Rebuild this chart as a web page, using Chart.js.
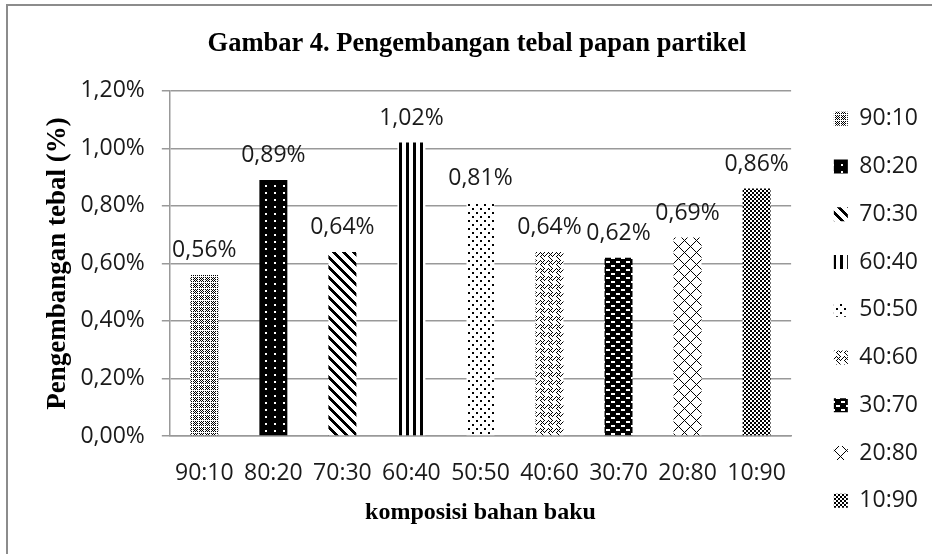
<!DOCTYPE html>
<html lang="id">
<head>
    <meta charset="UTF-8">
    <title>Gambar 4. Pengembangan tebal papan partikel</title>
    <script src="https://cdn.jsdelivr.net/npm/chart.js"></script>
    <style>
        body { margin: 0; background: #fff; }
        #wrap { width: 932px; height: 554px; }
    </style>
</head>
<body>
    <div id="wrap">
        <canvas id="chart" width="932" height="554"></canvas>
    </div>

    <script>
        // chart data
        const categories = ['90:10', '80:20', '70:30', '60:40', '50:50', '40:60', '30:70', '20:80', '10:90'];
        const values = [0.56, 0.89, 0.64, 1.02, 0.81, 0.64, 0.62, 0.69, 0.86];
        const yTicks = [0, 0.2, 0.4, 0.6, 0.8, 1.0, 1.2];

        const chartTitle = 'Gambar 4. Pengembangan tebal papan partikel';
        const xTitle = 'komposisi bahan baku';
        const yTitle = 'Pengembangan tebal (%)';

        const fmt = v => v.toFixed(2).replace('.', ',') + '%';

        // small black/white tiles, like the excel pattern fills
        function tile(w, h, isBlack) {
            const c = document.createElement('canvas');
            c.width = w; c.height = h;
            const g = c.getContext('2d');
            g.fillStyle = '#fff';
            g.fillRect(0, 0, w, h);
            g.fillStyle = '#000';
            for (let y = 0; y < h; y++) {
                for (let x = 0; x < w; x++) {
                    if (isBlack(x, y)) g.fillRect(x, y, 1, 1);
                }
            }
            return g.createPattern(c, 'repeat');
        }

        const patterns = [
            // 90:10 checker blocks split by white lines
            tile(6, 6, (x, y) => x % 6 !== 0 && y % 6 !== 0 && (x + y) % 2 === 0),
            // 80:20 black with white dots
            tile(9, 7, (x, y) => !((x === 4 || x === 5) && (y === 3 || y === 4))),
            // 70:30 wide downward diagonal
            tile(10, 10, (x, y) => ((x - y + 10) % 10) < 4),
            // 60:40 wide vertical
            tile(7, 1, (x) => x < 3),
            // 50:50 sparse dots
            tile(8, 8, (x, y) => (x < 2 && y < 2) || (x >= 4 && x < 6 && y >= 4 && y < 6)),
            // 40:60 weave
            tile(8, 8, (x, y) => (x < 4 && (x + y) % 8 === 0) || (x >= 4 && (x - y + 8) % 8 === 0) ||
                (y < 4 && (x - y + 8) % 8 === 4) || (y >= 4 && (x + y) % 8 === 4)),
            // 30:70 black with white dashes
            tile(10, 8, (x, y) => !((y === 1 || y === 2) && x >= 1 && x < 5) && !((y === 5 || y === 6) && x >= 6 && x < 10)),
            // 20:80 large diamond
            tile(12, 12, (x, y) => (x + y) % 12 === 0 || (x - y + 12) % 12 === 0),
            // 10:90 dense checker
            tile(4, 4, (x, y) => (x < 2) === (y < 2))
        ];

        const datasets = categories.map((name, i) => ({
            label: name,
            data: categories.map((c, j) => j === i ? values[i] : null),
            backgroundColor: patterns[i],
            borderWidth: 0,
            grouped: false,
            barPercentage: 0.405,
            categoryPercentage: 1
        }));

        // white background + frame
        const frame = {
            id: 'frame',
            beforeDraw(chart) {
                const c = chart.ctx;
                c.save();
                c.fillStyle = '#fff';
                c.fillRect(0, 0, chart.width, chart.height);
                c.strokeStyle = '#8c8c8c';
                c.lineWidth = 2;
                c.strokeRect(7, 5, chart.width + 20, chart.height + 20);
                c.restore();
            }
        };

        // value labels above each bar
        const barLabels = {
            id: 'barLabels',
            afterDatasetsDraw(chart) {
                const c = chart.ctx;
                c.save();
                c.font = '23px "Open Sans"';
                c.fillStyle = '#1a1a1a';
                c.textAlign = 'center';
                c.textBaseline = 'alphabetic';
                chart.data.datasets.forEach((ds, i) => {
                    chart.getDatasetMeta(i).data.forEach((bar, j) => {
                        if (ds.data[j] == null) return;
                        c.fillText(fmt(ds.data[j]), bar.x, bar.y - 18);
                    });
                });
                c.restore();
            }
        };

        new Chart(document.getElementById('chart'), {
            type: 'bar',
            data: { labels: categories, datasets: datasets },
            plugins: [frame, barLabels],
            options: {
                responsive: false,
                animation: false,
                layout: { padding: { left: 26, right: 4, top: 0, bottom: 17 } },
                plugins: {
                    title: {
                        display: true,
                        text: chartTitle,
                        color: '#000',
                        font: { family: 'Liberation Serif', weight: 'bold', size: 26.5 },
                        padding: { top: 28, bottom: 31 }
                    },
                    legend: {
                        position: 'right',
                        align: 'end',
                        labels: {
                            color: '#1a1a1a',
                            font: { family: 'Open Sans', size: 23 },
                            boxWidth: 14,
                            boxHeight: 14,
                            padding: 24.75
                        }
                    },
                    tooltip: { enabled: false }
                },
                scales: {
                    x: {
                        grid: { display: false },
                        border: { color: '#999', width: 1.5 },
                        ticks: {
                            color: '#1a1a1a',
                            font: { family: 'Open Sans', size: 23 },
                            padding: 16,
                            maxRotation: 0
                        },
                        title: {
                            display: true,
                            text: xTitle,
                            color: '#000',
                            font: { family: 'Liberation Serif', weight: 'bold', size: 24 },
                            padding: { top: -5, bottom: 9.6 }
                        }
                    },
                    y: {
                        min: 0,
                        max: 1.2,
                        afterBuildTicks: scale => { scale.ticks = yTicks.map(v => ({ value: v })); },
                        grid: { color: '#999', lineWidth: 1.5, tickLength: 8 },
                        border: { color: '#999', width: 1.5 },
                        ticks: {
                            color: '#1a1a1a',
                            font: { family: 'Open Sans', size: 23 },
                            padding: 17,
                            callback: v => fmt(v)
                        },
                        title: {
                            display: true,
                            text: yTitle,
                            color: '#000',
                            font: { family: 'Liberation Serif', weight: 'bold', size: 27 },
                            padding: { top: 16, bottom: -11 }
                        }
                    },
                    // empty axis that only keeps a gap before the legend
                    gap: {
                        type: 'linear',
                        position: 'right',
                        grid: { display: false },
                        border: { display: false },
                        ticks: { display: false },
                        afterFit: scale => { scale.width = 18; }
                    }
                }
            }
        });
    </script>
</body>
</html>
